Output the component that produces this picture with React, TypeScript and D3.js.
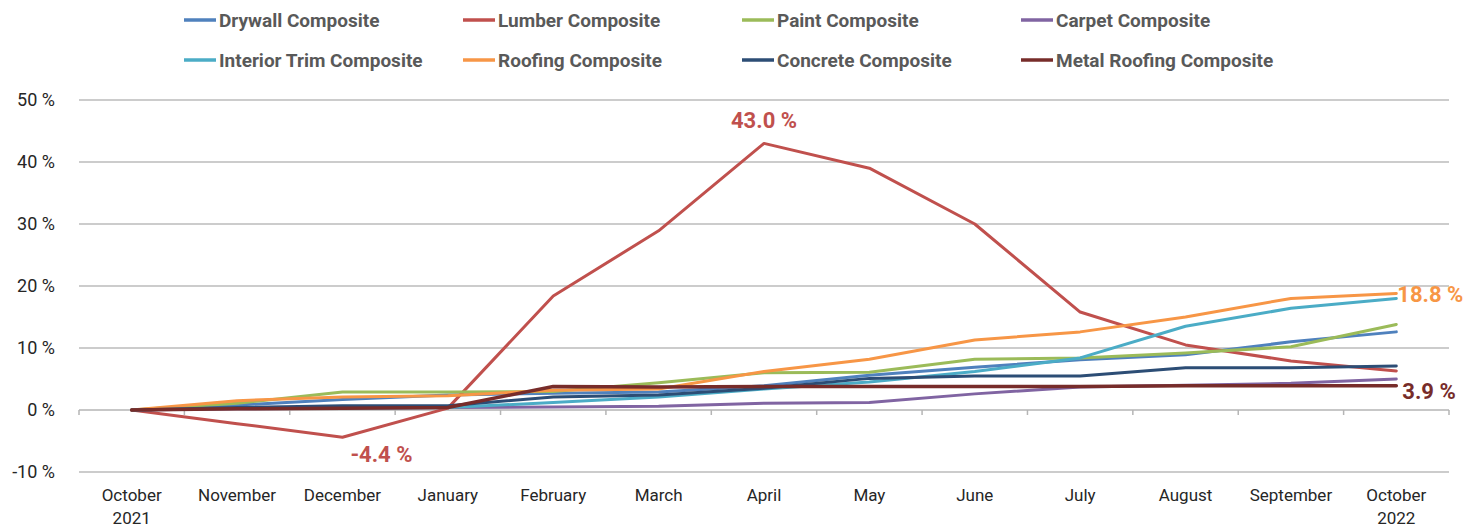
import React from 'react';
import * as d3 from 'd3';

const months = [
  'October\n2021', 'November', 'December', 'January', 'February', 'March', 'April',
  'May', 'June', 'July', 'August', 'September', 'October\n2022'
];

const seriesNames = [
  'Drywall Composite', 'Lumber Composite', 'Paint Composite', 'Carpet Composite',
  'Interior Trim Composite', 'Roofing Composite', 'Concrete Composite', 'Metal Roofing Composite'
];

const seriesColors = ['#4f81bd', '#c0504d', '#9bbb59', '#8064a2', '#4bacc6', '#f79646', '#2c4d75', '#772c2a'];

const drywall = [0, 0.8, 1.7, 2.4, 2.7, 2.9, 3.9, 5.6, 6.9, 8.1, 8.9, 11.0, 12.6];
const lumber = [0, -2.2, -4.4, 0.3, 18.4, 28.9, 43.0, 39.0, 30.0, 15.8, 10.5, 7.9, 6.3];
const paint = [0, 1.1, 2.9, 2.9, 3.0, 4.4, 6.0, 6.1, 8.2, 8.4, 9.2, 10.2, 13.8];
const carpet = [0, 0.2, 0.3, 0.4, 0.5, 0.6, 1.1, 1.2, 2.6, 3.7, 4.0, 4.3, 5.0];
const interiorTrim = [0, 0.3, 0.3, 0.4, 1.2, 2.1, 3.4, 4.5, 6.2, 8.4, 13.5, 16.4, 18.0];
const roofing = [0, 1.5, 2.1, 2.3, 3.2, 3.4, 6.2, 8.2, 11.3, 12.6, 15.0, 18.0, 18.8];
const concrete = [0, 0.4, 0.7, 0.7, 2.1, 2.4, 3.5, 5.1, 5.5, 5.5, 6.8, 6.8, 7.1];
const metalRoofing = [0, 0.2, 0.3, 0.4, 3.8, 3.7, 3.8, 3.8, 3.8, 3.8, 3.9, 3.9, 3.9];

const seriesValues = [drywall, lumber, paint, carpet, interiorTrim, roofing, concrete, metalRoofing];

const yTicks = [-10, 0, 10, 20, 30, 40, 50];

const W = 1477;
const H = 529;
const FONT = 'Roboto, "Noto Sans", sans-serif';

const App: React.FC = () => {
  const x = d3.scaleBand<string>().domain(months).range([79, 1449]);
  const y = d3.scaleLinear().domain([-10, 50]).range([472, 100]);
  const cx = (m: string) => (x(m) || 0) + x.bandwidth() / 2;
  // plain hyphen for negatives, like the original
  const fmt = (v: number) => `${d3.format('.1f')(v).replace('\u2212', '-')} %`;

  const line = d3.line<number>()
    .x((_, i) => cx(months[i]))
    .y(d => y(d));

  const legendCols = [184, 463, 742, 1021];
  const legendRows = [20, 60];

  const last = months.length - 1;
  const lumberMaxIdx = d3.maxIndex(lumber);
  const lumberMinIdx = d3.minIndex(lumber);

  const boundaries = months.map(m => x(m) || 0).concat([x.range()[1]]);

  return (
    <div style={{ position: 'fixed', left: 0, top: 0 }}>
      <svg width={W} height={H} style={{ display: 'block', background: '#fff' }} fontFamily={FONT}>
        {/* grid */}
        {yTicks.filter(t => t !== 0).map(t => (
          <line key={t} x1={79} x2={1449} y1={y(t)} y2={y(t)} stroke="#9a9a9a" strokeWidth={1.2} />
        ))}
        {/* zero axis with ticks */}
        <line x1={79} x2={1449} y1={y(0)} y2={y(0)} stroke="#b5b5b5" strokeWidth={1.5} />
        {boundaries.map((b, i) => (
          <line key={i} x1={b} x2={b} y1={y(0)} y2={y(0) + 5} stroke="#b5b5b5" strokeWidth={1.5} />
        ))}
        {/* y labels */}
        {yTicks.map(t => (
          <text key={t} x={55} y={y(t)} dy="0.35em" textAnchor="end" fontSize={18} fill="#262626">
            {`${t} %`}
          </text>
        ))}
        {/* x labels */}
        {months.map(m => (
          <text key={m} x={cx(m)} y={501} textAnchor="middle" fontSize={17} fill="#262626">
            {m.split('\n').map((p, i) => (
              <tspan key={i} x={cx(m)} dy={i === 0 ? 0 : 23}>{p}</tspan>
            ))}
          </text>
        ))}
        {/* lines */}
        {seriesValues.map((vals, i) => (
          <path key={seriesNames[i]} d={line(vals) || ''} fill="none" stroke={seriesColors[i]}
            strokeWidth={i === 7 ? 3.5 : 3} strokeLinejoin="round" strokeLinecap="round" />
        ))}
        {/* data labels */}
        <text x={cx(months[lumberMaxIdx])} y={128} textAnchor="middle" fontSize={22} fontWeight={700} fill="#c0504d">
          {fmt(lumber[lumberMaxIdx])}
        </text>
        <text x={cx(months[lumberMinIdx]) + 39} y={462} textAnchor="middle" fontSize={22} fontWeight={700} fill="#c0504d">
          {fmt(lumber[lumberMinIdx])}
        </text>
        <text x={cx(months[last]) + 1} y={y(roofing[last]) + 1} dy="0.35em" fontSize={22} fontWeight={700} fill="#f79646">
          {fmt(roofing[last])}
        </text>
        <text x={cx(months[last]) + 6} y={y(metalRoofing[last]) + 5} dy="0.35em" fontSize={22} fontWeight={700} fill="#772c2a">
          {fmt(metalRoofing[last])}
        </text>
        {/* legend */}
        {seriesNames.map((name, i) => {
          const lx = legendCols[i % 4];
          const ly = legendRows[Math.floor(i / 4)];
          return (
            <g key={name}>
              <line x1={lx} x2={lx + 32} y1={ly} y2={ly} stroke={seriesColors[i]} strokeWidth={3.5} />
              <text x={lx + 35} y={ly} dy="0.35em" fontSize={19} fontWeight={700} fill="#595959">{name}</text>
            </g>
          );
        })}
      </svg>
    </div>
  );
};

export default App;
